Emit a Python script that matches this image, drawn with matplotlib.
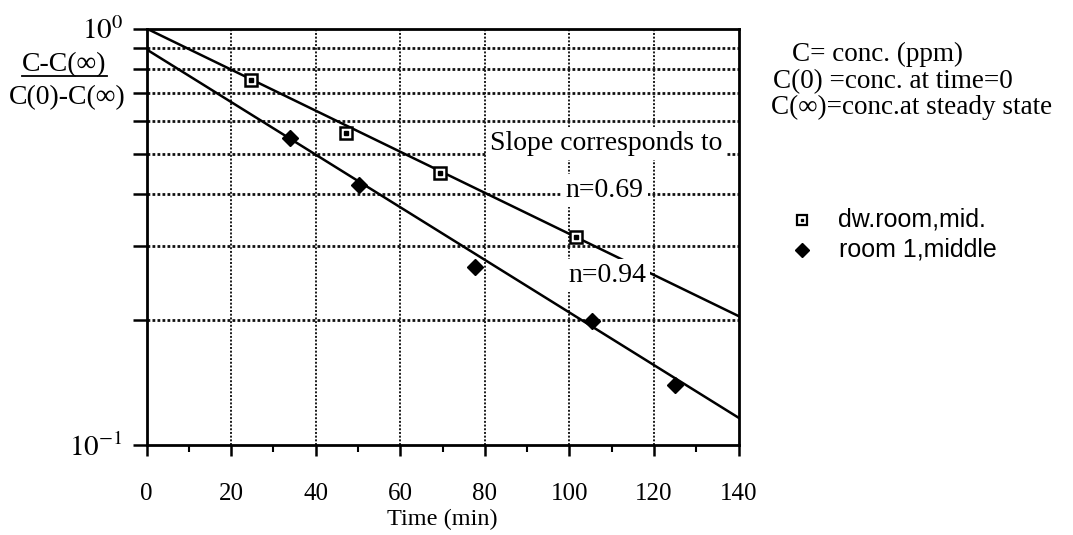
import matplotlib
matplotlib.use("Agg")
from matplotlib import pyplot as plt
from matplotlib.lines import Line2D
import numpy as np

# measured decay, dwelling room (middle) and room 1 (middle)
dw_time = [24.6, 47.2, 69.4, 101.5]
dw_ratio = [0.752, 0.562, 0.449, 0.316]
r1_time = [33.9, 50.2, 77.7, 105.3, 125.0]
r1_ratio = [0.547, 0.421, 0.268, 0.198, 0.139]

# fitted lines, end points at t=0 and t=140
fit_time = [0, 140]
dw_fit = [1.0, 0.204]
r1_fit = [0.891, 0.1163]

x_ticks = [0, 20, 40, 60, 80, 100, 120, 140]

serif = "Liberation Serif"
sans = "Liberation Sans"
plt.rcParams["mathtext.fontset"] = "stix"
plt.rcParams["font.family"] = serif

W, H = 1073, 535


def fx(px):
    return px / W


def fy(py):
    return 1 - py / H


fig = plt.figure(figsize=(W / 100, H / 100), dpi=100)
ax = fig.add_axes([fx(146.5), fy(445), 592 / W, 416.5 / H])

ax.set_yscale("log")
ax.set_xlim(0, 140)
ax.set_ylim(0.1, 1.0)

# grid
for v in np.arange(0.2, 1.0, 0.1):
    ax.axhline(v, color="#111111", lw=2.0, ls=(0, (1, 0.8)), zorder=1)
for t in x_ticks[1:-1]:
    ax.axvline(t, color="#1a1a1a", lw=1.4, ls=(0, (1, 0.9)), zorder=1)

ax.plot(fit_time, dw_fit, color="black", lw=1.8, zorder=2)
ax.plot(fit_time, r1_fit, color="black", lw=1.8, zorder=2)

ax.plot(dw_time, dw_ratio, ls="none", marker="s", ms=8, mfc="white",
        mec="black", mew=1.8, zorder=4)
ax.plot(dw_time, dw_ratio, ls="none", marker="s", ms=2.5, mfc="black",
        mec="black", zorder=5)
ax.plot(r1_time, r1_ratio, ls="none", marker="D", ms=8, mfc="black",
        mec="black", zorder=4)

box = dict(facecolor="white", edgecolor="none", pad=3)
ax.text(108.7, 0.511, "Slope corresponds to", fontsize=20, ha="center",
        va="baseline", bbox=box, zorder=3)
ax.text(108.4, 0.394, "n=0.69", fontsize=20, ha="center", va="baseline",
        bbox=box, zorder=3)
ax.text(108.9, 0.246, "n=0.94", fontsize=20, ha="center", va="baseline",
        bbox=box, zorder=3)

# axes and ticks
for s in ax.spines.values():
    s.set_linewidth(2)
    s.set_zorder(6)
ax.set_xticks(x_ticks)
ax.set_xticks(range(10, 140, 20), minor=True)
ax.tick_params(axis="x", which="major", direction="out", length=8, width=1.8,
               labelsize=18, pad=19)
ax.tick_params(axis="x", which="minor", direction="out", length=5, width=1.5)
ax.set_yticks([0.1, 1.0])
ax.set_yticklabels([r"$10^{-1}$", r"$10^{0}$"])
ax.set_yticks(np.arange(0.2, 1.0, 0.1), minor=True)
ax.yaxis.set_minor_formatter(plt.NullFormatter())
ax.tick_params(axis="y", which="both", direction="out", length=10, width=1.8,
               labelsize=21, pad=7)
ax.set_xlabel("Time (min)", fontsize=17.5, labelpad=3)

# y-axis quantity written as a fraction
fig.text(fx(64), fy(71), "C-C(\u221e)", fontsize=20, ha="center",
         va="baseline")
fig.add_artist(Line2D([fx(22), fx(107)], [fy(75.5), fy(75.5)],
                      color="black", lw=1.3))
fig.text(fx(67), fy(104), "C(0)-C(\u221e)", fontsize=20, ha="center",
         va="baseline")

# definitions
fig.text(fx(792), fy(61), "C= conc. (ppm)", fontsize=19.5,
         ha="left", va="baseline")
fig.text(fx(773), fy(88), "C(0) =conc. at time=0", fontsize=19.5,
         ha="left", va="baseline")
fig.text(fx(771), fy(114), "C(\u221e)=conc.at steady state",
         fontsize=19.5, ha="left", va="baseline")

# legend
leg_x = fx(802)
fig.add_artist(Line2D([leg_x], [fy(220)], marker="s", ms=7, mfc="white",
                      mec="black", mew=1.6, ls="none"))
fig.add_artist(Line2D([leg_x], [fy(220)], marker="s", ms=2, mfc="black",
                      mec="black", ls="none"))
fig.add_artist(Line2D([leg_x], [fy(250)], marker="D", ms=7.5, mfc="black",
                      mec="black", ls="none"))
fig.text(fx(838), fy(227), "dw.room,mid.", fontsize=18,
         family=sans, ha="left", va="baseline")
fig.text(fx(839), fy(257), "room 1,middle", fontsize=18,
         family=sans, ha="left", va="baseline")

fig.savefig("out.png", dpi=100)
